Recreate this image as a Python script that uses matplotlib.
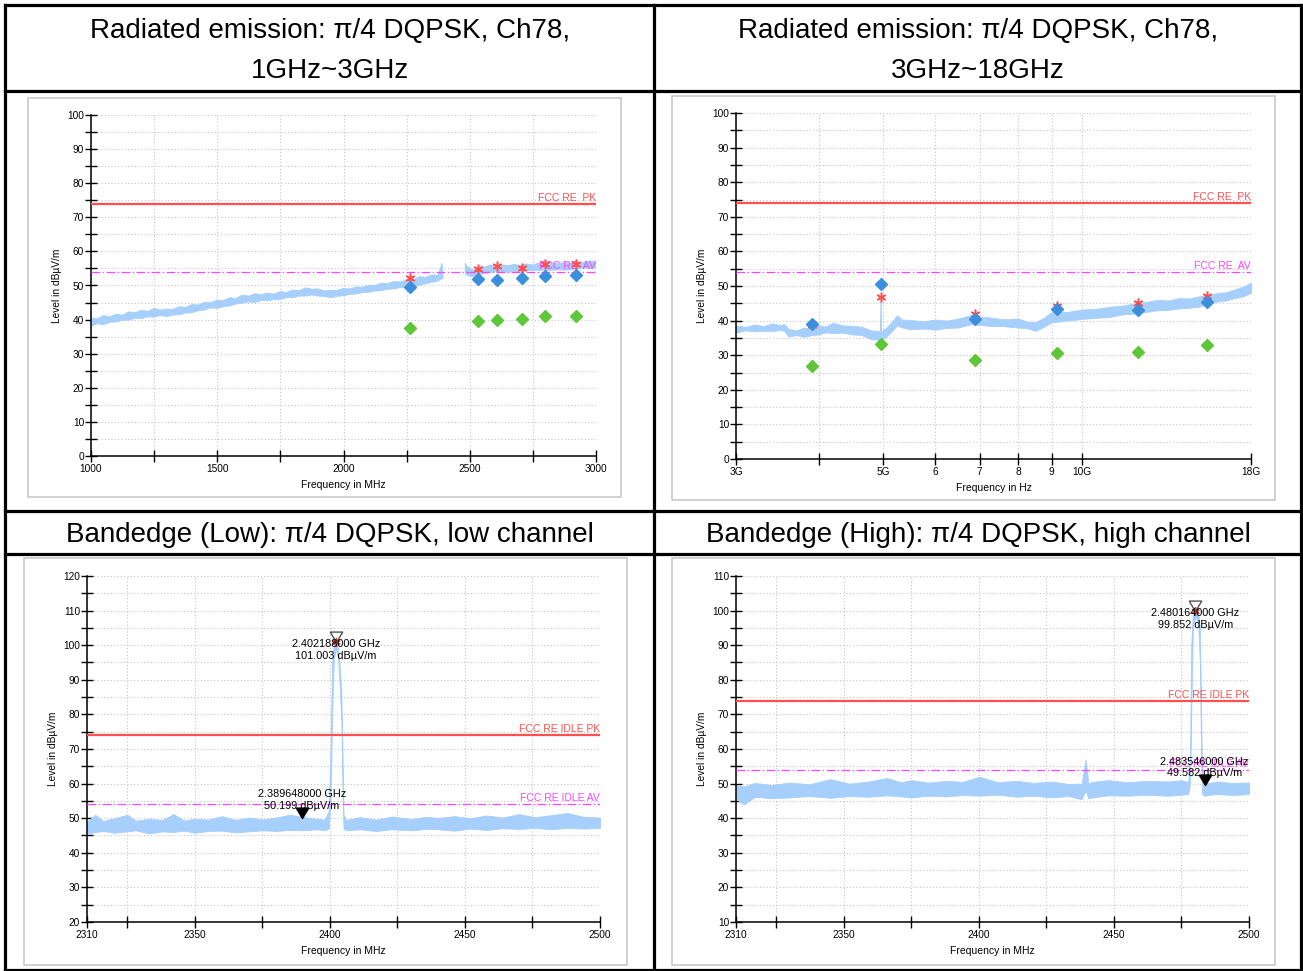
import numpy as np
import matplotlib
matplotlib.use('Agg')
import matplotlib.pyplot as plt
import matplotlib.transforms as mtransforms
from matplotlib.lines import Line2D
from matplotlib.patches import Rectangle
from matplotlib.ticker import FixedLocator, NullLocator, MultipleLocator

# ---------------- data ----------------
pk_limit = 74.0
av_limit = 54.0

# top left: 1 GHz ~ 3 GHz, trace envelope (MHz, low, high), NaN = notch gap
tl_freq = [1000, 1025, 1050, 1075, 1100, 1125, 1150, 1175, 1200, 1225, 1250, 1275,
           1300, 1325, 1350, 1375, 1400, 1425, 1450, 1475, 1500, 1525, 1550, 1575,
           1600, 1625, 1650, 1675, 1700, 1725, 1750, 1775, 1800, 1825, 1850, 1875,
           1900, 1925, 1950, 1975, 2000, 2025, 2050, 2075, 2100, 2125, 2150, 2175,
           2200, 2225, 2250, 2275, 2300, 2325, 2350, 2375, 2390, 2394, 2396,
           2478, 2482, 2490, 2500, 2510, 2520, 2530, 2545, 2560, 2580, 2600, 2625,
           2650, 2675, 2700, 2725, 2750, 2775, 2800, 2825, 2850, 2875, 2900, 2925,
           2950, 2975, 3000]
tl_lo = [38.0, 38.8, 38.5, 39.2, 39.3, 39.8, 39.8, 40.4, 40.3, 40.8, 40.7, 41.2,
         40.9, 41.3, 41.4, 41.9, 42.0, 42.6, 42.8, 43.4, 43.3, 43.8, 44.0, 44.6,
         44.8, 45.2, 45.0, 45.6, 45.5, 45.9, 45.9, 46.4, 46.4, 46.9, 46.9, 47.2,
         46.9, 46.8, 46.4, 46.8, 47.0, 47.4, 47.5, 47.9, 48.0, 48.4, 48.5, 48.9,
         49.0, 49.4, 49.4, 49.9, 50.0, 50.5, 50.9, 51.3, 52.0, 52.0, np.nan,
         np.nan, 53.5, 53.0, 52.8, 52.5, 52.8, 53.0, 53.3, 53.5, 53.8, 54.0, 53.9,
         54.0, 54.1, 54.0, 54.3, 54.4, 54.4, 54.5, 54.4, 54.6, 54.5, 54.6, 54.8,
         55.0, 54.9, 55.2]
tl_hi = [40.5, 40.2, 41.2, 40.8, 41.6, 41.3, 42.3, 42.0, 42.8, 42.4, 43.3, 42.8,
         43.1, 43.0, 43.8, 43.6, 44.4, 44.3, 45.1, 45.0, 45.7, 45.6, 46.4, 46.2,
         47.2, 46.9, 47.6, 47.3, 47.8, 47.5, 48.2, 48.0, 48.7, 48.5, 49.3, 48.9,
         49.0, 48.4, 48.6, 48.6, 49.1, 49.0, 49.6, 49.5, 50.1, 50.0, 50.7, 50.5,
         51.2, 51.0, 51.7, 51.6, 52.6, 52.4, 53.1, 53.0, 56.5, 53.5, np.nan,
         np.nan, 56.5, 55.5, 55.2, 54.5, 55.0, 54.8, 55.6, 55.4, 56.0, 55.8, 56.1,
         55.8, 56.2, 55.9, 56.3, 56.0, 56.6, 56.3, 56.7, 56.4, 56.8, 56.5, 56.9,
         56.8, 57.2, 57.0]
tl_mk_freq = [2263, 2533, 2608, 2707, 2798, 2921]
tl_peak = [52.3, 54.8, 55.8, 55.2, 56.4, 56.4]
tl_qpk = [49.6, 51.9, 51.5, 52.1, 52.8, 53.0]
tl_avg = [37.4, 39.6, 39.9, 40.2, 41.0, 41.0]

# top right: 3 GHz ~ 18 GHz (GHz, low, high)
tr_freq = [3.0, 3.1, 3.2, 3.3, 3.4, 3.5, 3.55, 3.6, 3.7, 3.8, 3.9, 4.0, 4.1, 4.2,
           4.35, 4.5, 4.65, 4.8, 4.95, 4.96, 4.97, 5.05, 5.15, 5.25, 5.35, 5.5, 5.75,
           6.0, 6.25, 6.5, 6.8, 7.0, 7.2, 7.6, 8.0, 8.3, 8.5, 8.75, 9.0, 9.5, 10,
           10.5, 11, 11.5, 12, 12.5, 13, 13.5, 14, 14.5, 15, 15.5, 16, 16.5, 17,
           17.5, 18]
tr_lo = [36.5, 37.2, 36.9, 37.1, 37.0, 37.3, 37.0, 35.4, 35.8, 35.3, 35.8, 36.0,
         36.6, 36.4, 36.5, 36.0, 35.8, 34.6, 34.5, 36.0, 34.5, 35.2, 36.8, 38.6,
         38.0, 37.5, 37.7, 37.4, 37.9, 38.0, 39.0, 38.8, 38.5, 38.4, 38.0, 37.7,
         37.0, 38.2, 39.5, 40.0, 40.5, 40.8, 41.0, 41.8, 42.0, 42.5, 43.0, 43.1,
         43.5, 43.7, 44.0, 44.8, 45.5, 45.8, 46.5, 47.0, 48.0]
tr_hi = [38.6, 38.2, 38.9, 38.4, 39.2, 38.7, 39.0, 37.6, 37.2, 38.0, 37.6, 38.6,
         38.3, 39.4, 38.6, 38.5, 38.2, 37.2, 37.0, 47.0, 37.0, 37.8, 39.5, 41.5,
         40.3, 40.2, 39.8, 40.3, 40.0, 40.6, 41.6, 41.0, 41.0, 40.4, 40.6, 39.6,
         39.5, 40.8, 42.5, 42.5, 43.2, 43.4, 44.0, 44.3, 45.0, 45.4, 46.0, 45.8,
         46.5, 46.4, 47.0, 47.3, 48.0, 48.2, 49.0, 49.8, 51.0]
tr_mk_freq = [3.91, 4.96, 6.89, 9.15, 12.16, 15.42]
tr_peak = [38.6, 46.8, 41.8, 44.3, 45.2, 47.2]
tr_qpk = [38.9, 50.5, 40.4, 43.4, 43.1, 45.5]
tr_avg = [26.9, 33.3, 28.6, 30.7, 31.0, 32.9]

# bottom left: band edge low channel (MHz, low, high)
bl_freq = [2310, 2313, 2316, 2320, 2325, 2328, 2333, 2338, 2342, 2346, 2350, 2355,
           2360, 2365, 2370, 2375, 2380, 2385, 2390, 2395, 2398,
           2399.5, 2400.2, 2400.8, 2401.4, 2402.2, 2403.0, 2403.6, 2404.2, 2404.6, 2405.0,
           2406, 2411, 2417, 2423, 2430, 2436, 2440, 2446, 2452, 2458, 2464, 2470,
           2476, 2482, 2488, 2494, 2500]
bl_lo = [45.5, 46.0, 46.3, 45.8, 46.2, 46.5, 45.6, 46.2, 46.0, 46.4, 45.8, 46.3,
         46.4, 45.9, 46.2, 46.5, 46.3, 46.6, 46.5, 46.8, 46.5,
         47, 55, 80, 96, 99, 96, 88, 78, 60, 47,
         46.5, 46.8, 46.3, 46.8, 46.5, 46.9, 46.8, 46.4, 47.0, 46.6, 47.1, 46.9,
         47.2, 46.8, 47.2, 47.0, 47.2]
bl_hi = [49.0, 51.0, 49.2, 50.0, 51.0, 49.3, 49.8, 49.5, 51.2, 49.4, 49.8, 49.6,
         50.6, 49.5, 50.2, 49.6, 50.2, 51.0, 50.4, 49.8, 49.6,
         52, 70, 95, 100, 101, 99, 94, 86, 70, 51,
         49.5, 50.3, 49.6, 50.5, 49.8, 50.4, 50.1, 50.6, 50.0, 50.8, 50.2, 51.2,
         50.3, 50.9, 51.5, 50.4, 50.2]
bl_peak_f, bl_peak_v = 2402.188, 101.003
bl_edge_f, bl_edge_v = 2389.648, 50.199

# bottom right: band edge high channel (MHz, low, high)
br_freq = [2310, 2313, 2317, 2323, 2330, 2337, 2345, 2352, 2359, 2366, 2371, 2375,
           2381, 2388, 2394, 2400, 2407, 2414, 2420, 2427, 2433, 2438, 2439.5, 2440.5,
           2442, 2448, 2455, 2462, 2470, 2475, 2477.5,
           2478.2, 2478.6, 2479.2, 2480.16, 2481.2, 2481.8, 2482.2, 2482.6,
           2483.5, 2488, 2494, 2500]
br_lo = [45.5, 44.0, 46.2, 45.8, 46.0, 46.4, 45.9, 46.4, 46.2, 46.6, 46.3, 46.0,
         46.5, 46.3, 46.7, 46.5, 46.8, 46.2, 46.5, 46.0, 46.4, 45.5, 48.0, 45.8,
         46.0, 46.6, 46.5, 46.8, 46.5, 46.8, 47.0,
         50, 70, 95, 98.5, 96, 85, 62, 47,
         46.5, 47.0, 46.7, 47.0]
br_hi = [49.5, 49.2, 50.2, 49.6, 50.3, 49.8, 51.3, 50.0, 50.6, 51.6, 50.4, 51.0,
         50.3, 50.8, 50.5, 52.0, 50.4, 50.8, 50.2, 50.6, 49.9, 50.0, 57.0, 50.0,
         50.5, 51.0, 50.4, 50.8, 50.6, 51.0, 50.5,
         60, 90, 99, 99.852, 99, 95, 75, 52,
         50.0, 50.6, 50.2, 50.3]
br_peak_f, br_peak_v = 2480.164, 99.852
br_edge_f, br_edge_v = 2483.546, 49.582

titles = ["Radiated emission: \u03c0/4 DQPSK, Ch78,\n1GHz~3GHz",
          "Radiated emission: \u03c0/4 DQPSK, Ch78,\n3GHz~18GHz",
          "Bandedge (Low): \u03c0/4 DQPSK, low channel",
          "Bandedge (High): \u03c0/4 DQPSK, high channel"]

# ---------------- style ----------------
trace_c = '#a6cffb'
red_c = '#ff4f4f'
mag_c = '#ff44ff'
blue_c = '#3b8fdc'
green_c = '#5fc63a'
grid_c = '#c4c4c4'

W, H = 1303, 971
plt.rcParams['font.family'] = ['Liberation Sans', 'DejaVu Sans']
fig = plt.figure(figsize=(W / 100, H / 100), dpi=100)


def px_axes(l, t, r, b):
    return fig.add_axes([l / W, 1 - b / H, (r - l) / W, (b - t) / H])


def frame(l, t, r, b):
    fig.add_artist(Rectangle((l / W, 1 - b / H), (r - l) / W, (b - t) / H,
                             transform=fig.transFigure, fill=False,
                             edgecolor='#c8c8c8', lw=1.2))


def hline_px(y, x0, x1):
    fig.add_artist(Line2D([x0 / W, x1 / W], [1 - y / H, 1 - y / H], color='black',
                          lw=2.3, transform=fig.transFigure, solid_capstyle='projecting'))


def vline_px(x, y0, y1):
    fig.add_artist(Line2D([x / W, x / W], [1 - y0 / H, 1 - y1 / H], color='black',
                          lw=2.3, transform=fig.transFigure, solid_capstyle='projecting'))


def style(ax, xlabel):
    for s in ['top', 'right']:
        ax.spines[s].set_visible(False)
    for s in ['left', 'bottom']:
        ax.spines[s].set_linewidth(1.1)
    ax.tick_params(which='both', direction='inout', length=8, width=1, labelsize=7.3)
    ax.tick_params(axis='y', pad=1)
    ax.tick_params(axis='x', pad=2)
    ax.yaxis.set_major_locator(MultipleLocator(10))
    ax.yaxis.set_minor_locator(MultipleLocator(5))
    ax.grid(True, which='both', color=grid_c, ls=(0, (1, 2)), lw=0.8)
    ax.set_axisbelow(True)
    ax.set_xlabel(xlabel, fontsize=7.5, labelpad=4)
    ax.set_ylabel('Level in dB\u00b5V/m', fontsize=7.3, labelpad=4)


def limits(ax, pk_text, av_text):
    ax.axhline(pk_limit, color=red_c, lw=1.6, zorder=3)
    ax.axhline(av_limit, color=mag_c, lw=0.9, ls=(0, (7, 2, 1, 2)), zorder=3)
    tr = mtransforms.blended_transform_factory(ax.transAxes, ax.transData)
    ax.text(1.0, pk_limit + 0.3, pk_text, transform=tr, ha='right', va='bottom',
            color=red_c, fontsize=7.5, zorder=5)
    ax.text(1.0, av_limit + 0.3, av_text, transform=tr, ha='right', va='bottom',
            color=mag_c, fontsize=7.5, zorder=5)


def trace(ax, f, lo, hi):
    f = np.asarray(f, float)
    lo = np.asarray(lo, float)
    hi = np.asarray(hi, float)
    ax.fill_between(f, lo, hi, color=trace_c, lw=0.6, edgecolor=trace_c, zorder=2)


def finals(ax, f, pk, qp, av):
    ax.plot(f, pk, ls='none', marker=(6, 2, 0), ms=7, mew=1.1, color=red_c, zorder=6)
    ax.plot(f, qp, ls='none', marker='D', ms=6, color=blue_c, zorder=7)
    ax.plot(f, av, ls='none', marker='D', ms=6, color=green_c, zorder=7)


tip_down = [(-0.6, 1.0), (0.6, 1.0), (0.0, 0.0), (-0.6, 1.0)]


def marker_label(f, v):
    return '%.9f GHz\n%.3f dB\u00b5V/m' % (f / 1000.0, v)


def markers(ax, pf, pv, ef, ev):
    ax.plot([pf], [pv], ls='none', marker=(6, 2, 0), ms=6, mew=1, color='#e03030', zorder=8)
    ax.plot([pf], [pv], ls='none', marker=tip_down, ms=15, mfc='none', mec='#555555',
            mew=1, zorder=9)
    ax.annotate(marker_label(pf, pv), xy=(pf, pv), xytext=(0, 2), textcoords='offset points',
                ha='center', va='top', fontsize=7.8, zorder=10)
    ax.plot([ef], [ev], ls='none', marker=tip_down, ms=15, color='black', zorder=9)
    ax.annotate(marker_label(ef, ev), xy=(ef, ev), xytext=(0, 5), textcoords='offset points',
                ha='center', va='bottom', fontsize=7.8, zorder=10)


# ---------------- table ----------------
for y in [5.5, 91, 510.5, 554, 969.5]:
    hline_px(y, 4.5, 1300.5)
for x in [4.5, 654, 1300.5]:
    vline_px(x, 5.5, 969.5)

fig.text(330 / W, 1 - 51 / H, titles[0], ha='center', va='center', fontsize=20,
         linespacing=1.68)
fig.text(978 / W, 1 - 51 / H, titles[1], ha='center', va='center', fontsize=20,
         linespacing=1.68)
fig.text(330 / W, 1 - 535 / H, titles[2], ha='center', va='center', fontsize=20)
fig.text(978 / W, 1 - 535 / H, titles[3], ha='center', va='center', fontsize=20)

# ---------------- top left ----------------
frame(28, 98, 621, 497)
ax = px_axes(91, 115, 596, 456)
ax.set_xlim(1000, 3000)
ax.set_ylim(0, 100)
ax.xaxis.set_major_locator(MultipleLocator(500))
ax.xaxis.set_minor_locator(MultipleLocator(250))
style(ax, 'Frequency in MHz')
trace(ax, tl_freq, tl_lo, tl_hi)
limits(ax, 'FCC RE  PK', 'FCC RE  AV')
finals(ax, tl_mk_freq, tl_peak, tl_qpk, tl_avg)

# ---------------- top right ----------------
frame(672, 96, 1275, 500)
ax = px_axes(736, 113, 1251, 459)
ax.set_xscale('log')
ax.set_xlim(3, 18)
ax.set_ylim(0, 100)
ax.xaxis.set_major_locator(FixedLocator([3, 4, 5, 6, 7, 8, 9, 10, 18]))
ax.xaxis.set_minor_locator(NullLocator())
ax.set_xticklabels(['3G', '', '5G', '6', '7', '8', '9', '10G', '18G'])
style(ax, 'Frequency in Hz')
trace(ax, tr_freq, tr_lo, tr_hi)
limits(ax, 'FCC RE  PK', 'FCC RE  AV')
finals(ax, tr_mk_freq, tr_peak, tr_qpk, tr_avg)

# ---------------- bottom left ----------------
frame(24, 558, 627, 965)
ax = px_axes(87, 576, 600, 922)
ax.set_xlim(2310, 2500)
ax.set_ylim(20, 120)
ax.xaxis.set_major_locator(FixedLocator([2310, 2350, 2400, 2450, 2500]))
ax.xaxis.set_minor_locator(FixedLocator([2325, 2375, 2425, 2475]))
style(ax, 'Frequency in MHz')
trace(ax, bl_freq, bl_lo, bl_hi)
limits(ax, 'FCC RE IDLE PK', 'FCC RE IDLE AV')
markers(ax, bl_peak_f, bl_peak_v, bl_edge_f, bl_edge_v)

# ---------------- bottom right ----------------
frame(672, 558, 1275, 965)
ax = px_axes(736, 576, 1249, 922)
ax.set_xlim(2310, 2500)
ax.set_ylim(10, 110)
ax.xaxis.set_major_locator(FixedLocator([2310, 2350, 2400, 2450, 2500]))
ax.xaxis.set_minor_locator(FixedLocator([2325, 2375, 2425, 2475]))
style(ax, 'Frequency in MHz')
trace(ax, br_freq, br_lo, br_hi)
limits(ax, 'FCC RE IDLE PK', 'FCC RE IDLE AV')
markers(ax, br_peak_f, br_peak_v, br_edge_f, br_edge_v)

fig.savefig('out.png', dpi=100)
